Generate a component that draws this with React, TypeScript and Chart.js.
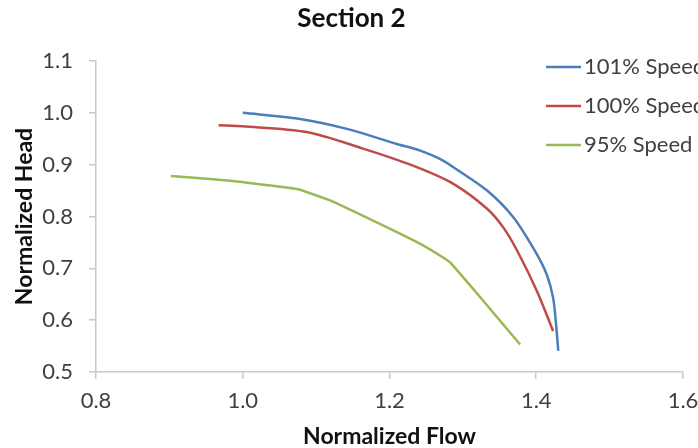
import React, { useEffect, useRef } from 'react';
import { Chart, registerables } from 'chart.js';

Chart.register(...registerables);

const chartTitle = 'Section 2';
const xAxisTitle = 'Normalized Flow';
const yAxisTitle = 'Normalized Head';
const seriesLabels = ['101% Speed', '100% Speed', '95% Speed'];
const seriesColors = ['#4A7EBB', '#BE4B48', '#98B954'];

const flow101 = [1.0, 1.074, 1.142, 1.21, 1.242, 1.27, 1.287, 1.333, 1.369, 1.398, 1.414, 1.423, 1.427, 1.43];
const head101 = [1.0, 0.989, 0.969, 0.94, 0.927, 0.91, 0.895, 0.85, 0.798, 0.734, 0.689, 0.643, 0.592, 0.541];

const flow100 = [0.967, 1.0, 1.087, 1.164, 1.232, 1.287, 1.333, 1.355, 1.374, 1.401, 1.423];
const head100 = [0.976, 0.974, 0.963, 0.931, 0.898, 0.863, 0.815, 0.779, 0.734, 0.656, 0.579];

const flow95 = [0.902, 0.983, 1.074, 1.119, 1.201, 1.242, 1.273, 1.283, 1.328, 1.378];
const head95 = [0.878, 0.869, 0.853, 0.831, 0.776, 0.747, 0.721, 0.711, 0.637, 0.553];

const xTicks = [0.8, 1.0, 1.2, 1.4, 1.6];
const yTicks = [0.5, 0.6, 0.7, 0.8, 0.9, 1.0, 1.1];

const FONT = 'Lato, "Open Sans", sans-serif';
const AXIS_GRAY = '#c9c9c9';
const TEXT_GRAY = '#404040';

export default function App() {
  const ref = useRef<HTMLCanvasElement>(null);

  useEffect(() => {
    document.body.style.margin = '0';
    const canvas = ref.current;
    if (!canvas) return;

    const toPts = (xs: number[], ys: number[]) => xs.map((x, i) => ({ x, y: ys[i] }));
    const allFlows = [flow101, flow100, flow95];
    const allHeads = [head101, head100, head95];

    const legendPlugin = {
      id: 'insideLegend',
      afterDraw(chart: any) {
        const c = chart.ctx;
        c.save();
        c.font = `22px ${FONT}`;
        c.textBaseline = 'middle';
        c.textAlign = 'left';
        const ys = [67, 106, 145];
        chart.data.datasets.forEach((ds: any, i: number) => {
          const y = ys[i];
          c.strokeStyle = ds.borderColor;
          c.lineWidth = 2.5;
          c.beginPath();
          c.moveTo(546, y);
          c.lineTo(581, y);
          c.stroke();
          c.fillStyle = TEXT_GRAY;
          c.fillText(ds.label, 584, y);
        });
        c.restore();
      },
    };

    const chart = new Chart(canvas, {
      type: 'scatter',
      data: {
        datasets: seriesLabels.map((label, i) => ({
          label,
          data: toPts(allFlows[i], allHeads[i]),
          borderColor: seriesColors[i],
          backgroundColor: seriesColors[i],
          borderWidth: 2.5,
          showLine: true,
          pointRadius: 0,
          tension: i === 2 ? 0.1 : 0.3,
          fill: false,
        })),
      },
      options: {
        responsive: false,
        animation: false,
        layout: { padding: { left: 5, right: 0, top: 0, bottom: 0 } },
        plugins: {
          legend: { display: false },
          tooltip: { enabled: false },
          title: {
            display: true,
            text: chartTitle,
            color: '#111',
            font: { family: FONT, size: 26, weight: 'bold', lineHeight: 1.2 },
            padding: { top: 3, bottom: 26.8 },
          },
        },
        scales: {
          x: {
            type: 'linear',
            min: 0.8,
            max: 1.6,
            afterBuildTicks: (s: any) => {
              s.ticks = xTicks.map((v) => ({ value: v }));
            },
            afterFit: (s: any) => {
              s.height = 76;
              s.paddingLeft = 0;
              s.paddingRight = 15;
            },
            ticks: {
              callback: (v: any) => Number(v).toFixed(1),
              color: TEXT_GRAY,
              font: { family: FONT, size: 22 },
              padding: 9,
              maxRotation: 0,
            },
            grid: { drawOnChartArea: false, drawTicks: true, tickLength: 7, color: AXIS_GRAY, lineWidth: 1.5 },
            border: { display: true, color: AXIS_GRAY, width: 1.5 },
            title: {
              display: true,
              text: xAxisTitle,
              color: '#111',
              font: { family: FONT, size: 23, weight: 'bold', lineHeight: 1.0 },
              padding: { top: 0, bottom: 0 },
            },
          },
          y: {
            type: 'linear',
            min: 0.5,
            max: 1.1,
            afterBuildTicks: (s: any) => {
              s.ticks = yTicks.map((v) => ({ value: v }));
            },
            afterFit: (s: any) => {
              s.width = 91;
            },
            ticks: {
              callback: (v: any) => Number(v).toFixed(1),
              color: TEXT_GRAY,
              font: { family: FONT, size: 22 },
              padding: 16,
            },
            grid: { drawOnChartArea: false, drawTicks: true, tickLength: 7, color: AXIS_GRAY, lineWidth: 1.5 },
            border: { display: true, color: AXIS_GRAY, width: 1.5 },
            title: {
              display: true,
              text: yAxisTitle,
              color: '#111',
              font: { family: FONT, size: 23, weight: 'bold', lineHeight: 1.0 },
              padding: { top: 8.5, bottom: 0 },
            },
          },
        },
      },
      plugins: [legendPlugin],
    });

    return () => chart.destroy();
  }, []);

  return <canvas ref={ref} width={698} height={448} style={{ display: 'block' }} />;
}
